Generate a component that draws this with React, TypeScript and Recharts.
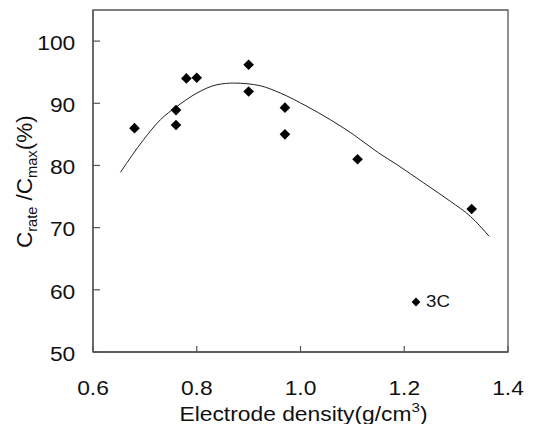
import React from "react";
import {
  ComposedChart,
  XAxis,
  YAxis,
  Scatter,
  Line,
  ReferenceArea,
  Legend,
} from "recharts";

// Measured points: electrode density (g/cm3) vs Crate/Cmax (%)
const densities = [0.68, 0.76, 0.76, 0.78, 0.8, 0.9, 0.9, 0.97, 0.97, 1.11, 1.33];
const ratios = [86.0, 88.9, 86.5, 94.0, 94.1, 96.2, 91.9, 89.3, 85.0, 81.0, 73.0];

// Fitted curve
const curveX = [0.653, 0.6975, 0.73, 0.762, 0.8005, 0.839, 0.871, 0.897, 0.9225, 0.961, 1.0125, 1.0575, 1.1024, 1.1506, 1.186, 1.2373, 1.2888, 1.3273, 1.3637];
const curveY = [78.9, 84.15, 87.36, 89.5, 91.65, 92.98, 93.25, 93.14, 92.82, 91.65, 89.5, 87.36, 84.95, 82.01, 80.13, 77.2, 74.24, 71.83, 68.6];

const xTicks = [0.6, 0.8, 1.0, 1.2, 1.4];
const yTicks = [50, 60, 70, 80, 90, 100];
const seriesName = "3C";

const points = densities.map((x, i) => ({ x, y: ratios[i] }));
const curve = curveX.map((x, i) => ({ x, y: curveY[i] }));

const FONT = "'Liberation Sans', Arial, Helvetica, sans-serif";
const AXIS = "#555";
const SX = 1.17;

const XTick = (props: any) => {
  const { x, y, payload } = props;
  return (
    <g>
      <line x1={x} y1={y} x2={x} y2={y - 6} stroke={AXIS} strokeWidth={1.2} />
      <text
        transform={`translate(${x} ${y + 42.5}) scale(${SX} 1)`}
        textAnchor="middle"
        fontSize={19.5}
        fontFamily={FONT}
        fill="#111"
      >
        {Number(payload.value).toFixed(1)}
      </text>
    </g>
  );
};

const YTick = (props: any) => {
  const { x, y, payload } = props;
  return (
    <g>
      <line x1={x} y1={y} x2={x + 7} y2={y} stroke={AXIS} strokeWidth={1.2} />
      <text
        transform={`translate(${x - 17.7} ${y + 8.7}) scale(${SX} 1)`}
        textAnchor="end"
        fontSize={19.5}
        fontFamily={FONT}
        fill="#111"
      >
        {payload.value}
      </text>
    </g>
  );
};

const YLabel = (props: any) => {
  const vb = props.viewBox || {};
  const cx = 23.7;
  const cy = vb.y + vb.height / 2 + 0.7;
  return (
    <text
      x={cx}
      y={cy}
      transform={`rotate(-90, ${cx}, ${cy})`}
      textAnchor="middle"
      fontSize={22.5}
      fontFamily={FONT}
      fill="#111"
    >
      <tspan>C</tspan>
      <tspan fontSize={14.6} dy={5}>rate</tspan>
      <tspan dy={-5}> /C</tspan>
      <tspan fontSize={14.6} dy={5}>max</tspan>
      <tspan dy={-5}>(%)</tspan>
    </text>
  );
};

const XLabel = (props: any) => {
  const vb = props.viewBox || {};
  const cx = vb.x + vb.width / 2 + 3;
  return (
    <text
      transform={`translate(${cx} 412.7) scale(${SX} 1)`}
      textAnchor="middle"
      fontSize={19.5}
      fontFamily={FONT}
      fill="#111"
    >
      <tspan>Electrode density(g/cm</tspan>
      <tspan fontSize={13} dy={-9}>3</tspan>
      <tspan dy={9}>)</tspan>
    </text>
  );
};

const Diamond = (props: any) => {
  const { cx, cy } = props;
  const r = 5.3;
  return (
    <polygon
      points={`${cx},${cy - r} ${cx + r},${cy} ${cx},${cy + r} ${cx - r},${cy}`}
      fill="#000"
    />
  );
};

const LegendContent = () => (
  <div style={{ display: "flex", alignItems: "center", height: 16, fontFamily: FONT }}>
    <svg width={10} height={10} style={{ display: "block" }}>
      <polygon points="5,0.6 9.4,5 5,9.4 0.6,5" fill="#000" />
    </svg>
    <span
      style={{
        fontSize: 16,
        lineHeight: "16px",
        marginLeft: 5,
        color: "#111",
        display: "inline-block",
        transform: `scaleX(${SX})`,
        transformOrigin: "left center",
      }}
    >
      {seriesName}
    </span>
  </div>
);

export default function App() {
  return (
    <div style={{ width: 528, height: 416 }}>
      <ComposedChart
        width={528}
        height={416}
        margin={{ top: 2, right: 28, bottom: 0, left: 0 }}
      >
        <XAxis
          type="number"
          dataKey="x"
          domain={[0.6, 1.4]}
          ticks={xTicks}
          allowDataOverflow
          height={72}
          tickSize={0}
          tickMargin={0}
          tickLine={false}
          axisLine={{ stroke: AXIS, strokeWidth: 1.3 }}
          tick={<XTick />}
          label={<XLabel />}
        />
        <YAxis
          type="number"
          dataKey="y"
          domain={[50, 105]}
          ticks={yTicks}
          allowDataOverflow
          width={85}
          tickSize={0}
          tickMargin={0}
          tickLine={false}
          axisLine={{ stroke: AXIS, strokeWidth: 1.3 }}
          tick={<YTick />}
          label={<YLabel />}
        />
        <ReferenceArea
          x1={0.6}
          x2={1.4}
          y1={50}
          y2={105}
          fill="none"
          fillOpacity={0}
          stroke={AXIS}
          strokeWidth={1.3}
          ifOverflow="visible"
        />
        <Line
          data={curve}
          dataKey="y"
          type="monotone"
          dot={false}
          activeDot={false}
          stroke="#222"
          strokeWidth={1}
          isAnimationActive={false}
          legendType="none"
        />
        <Scatter
          data={points}
          dataKey="y"
          name={seriesName}
          shape={<Diamond />}
          isAnimationActive={false}
        />
        <Legend
          layout="vertical"
          align="center"
          verticalAlign="middle"
          content={<LegendContent />}
          wrapperStyle={{ left: 403, top: 286, width: 60, height: 16 }}
        />
      </ComposedChart>
    </div>
  );
}
